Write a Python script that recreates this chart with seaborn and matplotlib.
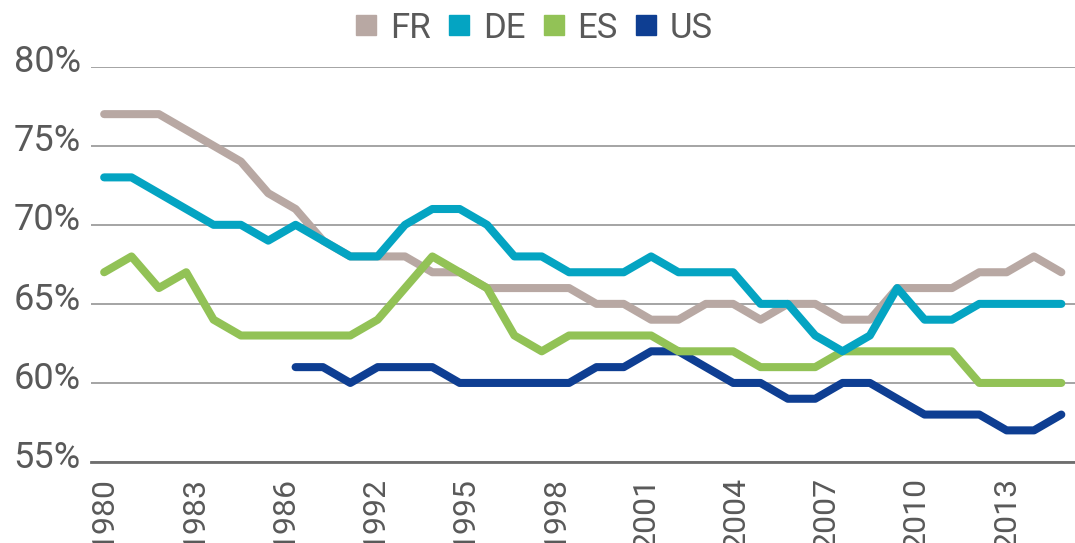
import numpy as np
import pandas as pd
import matplotlib
matplotlib.use("Agg")
import matplotlib.pyplot as plt
import matplotlib.transforms as mtransforms
from matplotlib.lines import Line2D
import seaborn as sns

years = list(range(1980, 2016))
tick_labels = ["1980", "1983", "1986", "1992", "1995", "1998", "2001",
               "2004", "2007", "2010", "2013"]

fr = [77, 77, 77, 76, 75, 74, 72, 71, 69, 68, 68, 68, 67, 67, 66, 66, 66, 66,
      65, 65, 64, 64, 65, 65, 64, 65, 65, 64, 64, 66, 66, 66, 67, 67, 68, 67]
de = [73, 73, 72, 71, 70, 70, 69, 70, 69, 68, 68, 70, 71, 71, 70, 68, 68, 67,
      67, 67, 68, 67, 67, 67, 65, 65, 63, 62, 63, 66, 64, 64, 65, 65, 65, 65]
es = [67, 68, 66, 67, 64, 63, 63, 63, 63, 63, 64, 66, 68, 67, 66, 63, 62, 63,
      63, 63, 63, 62, 62, 62, 61, 61, 61, 62, 62, 62, 62, 62, 60, 60, 60, 60]
us = [np.nan] * 7 + [61, 61, 60, 61, 61, 61, 60, 60, 60, 60, 60, 61, 61, 62,
                     62, 61, 60, 60, 59, 59, 60, 60, 59, 58, 58, 58, 57, 57, 58]

countries = ["FR", "DE", "ES", "US"]
colors = {"FR": "#B8A8A3", "DE": "#04A4C2", "ES": "#92C256", "US": "#0E3E92"}
series = {"FR": fr, "DE": de, "ES": es, "US": us}

rows = []
for c in countries:
    for i, v in enumerate(series[c]):
        rows.append({"idx": i, "year": years[i], "country": c, "value": v})
df = pd.DataFrame(rows)

sns.set_theme(style="white")
plt.rcParams["font.family"] = ["Roboto", "DejaVu Sans"]

W, H = 1075, 543
fig = plt.figure(figsize=(W / 100, H / 100), dpi=100)
left_px, right_px, bottom_px, top_px = 90.5, 1075, 462, 66.7
ax = fig.add_axes([left_px / W, (H - bottom_px) / H,
                   (right_px - left_px) / W, (bottom_px - top_px) / H])

draw_order = ["FR", "US", "ES", "DE"]
for c in draw_order:
    sub = df[df["country"] == c].dropna()
    sns.lineplot(data=sub, x="idx", y="value", color=colors[c], linewidth=5.8,
                 ax=ax, legend=False, solid_capstyle="round",
                 solid_joinstyle="round", clip_on=False, zorder=3)

ax.set_ylim(55, 80)
step = 27.63
ax.set_xlim(-0.5, -0.5 + (right_px - left_px) / step)

ax.set_yticks([55, 60, 65, 70, 75, 80])
ax.set_yticklabels([f"{v}%" for v in [55, 60, 65, 70, 75, 80]])
ax.yaxis.grid(True, color="#8C8C8C", linewidth=1.1)
ax.xaxis.grid(False)
ax.set_axisbelow(True)

ax.set_xticks(np.linspace(0, 33, len(tick_labels)))
ax.set_xticklabels(tick_labels, rotation=90)
ax.set_xticks(np.arange(-0.5, 36, 1), minor=True)
ax.tick_params(axis="x", which="major", length=0, pad=11,
               labelsize=23, labelcolor="#595959")
ax.tick_params(axis="x", which="minor", direction="in", length=5.5,
               width=1.1, color="#6E6E6E")
ax.tick_params(axis="y", length=0, pad=7, labelsize=26,
               labelcolor="#595959")
for lbl in ax.get_xticklabels():
    lbl.set_va("top")
off = mtransforms.ScaledTranslation(0, 6 / 72, fig.dpi_scale_trans)
for lbl in ax.get_yticklabels():
    lbl.set_transform(lbl.get_transform() + off)

for s in ["top", "right", "left"]:
    ax.spines[s].set_visible(False)
ax.spines["bottom"].set_color("#6E6E6E")
ax.spines["bottom"].set_linewidth(2)
ax.set_xlabel("")
ax.set_ylabel("")

handles = [Line2D([], [], marker="s", linestyle="none", markersize=14.5,
                  markerfacecolor=colors[c], markeredgecolor=colors[c])
           for c in countries]
leg = fig.legend(handles, countries, loc="center", bbox_to_anchor=(0.497, 1 - 28 / H),
                 ncol=4, frameon=False, handlelength=0.6, handletextpad=0.38,
                 columnspacing=0.52, prop={"size": 25})
for t in leg.get_texts():
    t.set_color("#595959")

fig.savefig("out.png", dpi=100)
